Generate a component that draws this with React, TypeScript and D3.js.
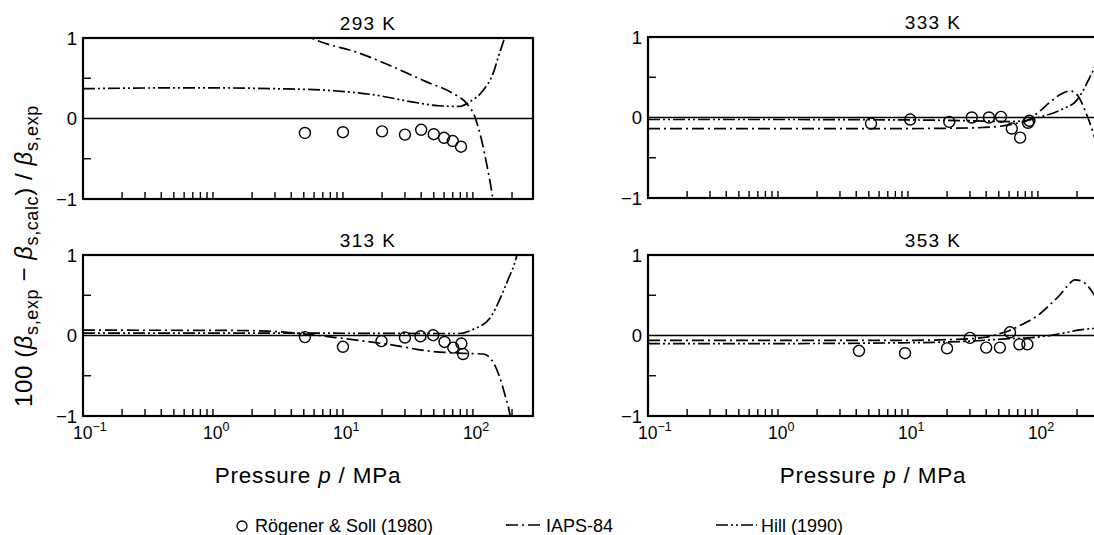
import React from 'react';
import * as d3 from 'd3';

type P = [number, number];

// ---- data (pressure in MPa, deviation in %) ----
const rogener293: P[] = [[5.1, -0.18], [10, -0.17], [20, -0.16], [30, -0.2], [40, -0.14], [50, -0.195], [60, -0.24], [70, -0.28], [81, -0.35]];
const iaps293: P[] = [[4.5, 1.08], [6.3, 0.97], [13.5, 0.81], [24.4, 0.64], [44, 0.455], [70.6, 0.31], [89.5, 0.186], [103.6, 0.02], [116.7, -0.27], [127.4, -0.56], [139, -0.89], [145, -1.08]];
const hill293: P[] = [[0.1, 0.37], [0.5, 0.38], [1, 0.38], [3, 0.37], [7.5, 0.35], [18, 0.29], [33, 0.21], [58, 0.155], [79, 0.15], [93, 0.2], [120, 0.35], [143, 0.56], [160, 0.81], [175, 1.0], [182, 1.1]];

const rogener313: P[] = [[5.1, -0.02], [10, -0.14], [19.8, -0.07], [30, -0.025], [39.5, -0.01], [49.5, 0.004], [60.5, -0.08], [70.6, -0.15], [81.5, -0.1], [84, -0.23]];
const iaps313: P[] = [[0.1, 0.066], [1, 0.064], [2.3, 0.058], [5, 0.02], [10, -0.037], [24.4, -0.12], [44, -0.19], [79, -0.22], [120, -0.23], [143, -0.33], [160, -0.51], [178, -0.76], [192, -0.97], [197, -1.08]];
const hill313: P[] = [[0.1, 0.03], [1, 0.03], [10, 0.028], [40, 0.025], [79, 0.025], [100, 0.075], [136, 0.22], [160, 0.44], [186, 0.69], [215, 0.96], [222, 1.05]];

const rogener333: P[] = [[5.2, -0.075], [10.4, -0.025], [20.8, -0.054], [31, 0.0], [42, 0.0], [52, 0.008], [63, -0.137], [73, -0.25], [84, -0.066], [86, -0.041]];
const iaps333: P[] = [[0.1, -0.137], [1, -0.137], [10, -0.137], [30, -0.13], [50, -0.11], [70, -0.07], [82, -0.04], [100, 0.06], [124, 0.19], [150, 0.29], [176, 0.33], [195, 0.3], [212, 0.22], [230, 0.09], [250, -0.06], [267, -0.2], [290, -0.4]];
const hill333: P[] = [[0.1, -0.025], [1, -0.025], [10, -0.03], [30, -0.04], [60, -0.05], [80, -0.04], [100, 0.0], [117, 0.03], [157, 0.11], [198, 0.21], [222, 0.33], [244, 0.46], [267, 0.59], [290, 0.72]];

const rogener353: P[] = [[4.2, -0.19], [9.5, -0.22], [20, -0.16], [30, -0.03], [40, -0.15], [51, -0.15], [61, 0.04], [72, -0.11], [83, -0.11]];
const iaps353: P[] = [[0.1, -0.06], [1, -0.06], [10, -0.06], [30, -0.04], [40, -0.02], [50, 0.02], [60, 0.06], [72, 0.12], [85, 0.18], [100, 0.25], [123, 0.38], [147, 0.5], [170, 0.62], [192, 0.69], [215, 0.68], [240, 0.62], [260, 0.55], [290, 0.42]];
const hill353: P[] = [[0.1, -0.1], [1, -0.1], [10, -0.09], [30, -0.07], [60, -0.04], [100, -0.02], [157, 0.03], [210, 0.07], [290, 0.09]];

const titles = ['293 K', '313 K', '333 K', '353 K'];
const tickMultipliers = [2, 3, 4, 5, 6, 7, 8, 9, 10];
const tickDecades = [0.1, 1, 10];
const extraTicks = [200];
const decadeLabels = [
  { value: 0.1, base: '10', exp: '\u22121' },
  { value: 1, base: '10', exp: '0' },
  { value: 10, base: '10', exp: '1' },
  { value: 100, base: '10', exp: '2' },
];
const yLabels = [
  { value: 1, text: '1' },
  { value: 0, text: '0' },
  { value: -1, text: '\u22121' },
];
const yMinorTicks = [0.5, -0.5];
const xDomain: [number, number] = [0.1, 290];
const yDomain: [number, number] = [-1, 1];

const IAPS_DASH = '12 4 2 4';
const HILL_DASH = '12 3 2 3 2 3';

const PW = 450;
const PH = 161;
const FONT = 'Liberation Sans, Arial, Helvetica, sans-serif';

interface PanelDef {
  title: string;
  x0: number;
  y0: number;
  points: P[];
  iaps: P[];
  hill: P[];
  showX: boolean;
  id: string;
}

const panels: PanelDef[] = [
  { title: titles[0], x0: 83, y0: 38, points: rogener293, iaps: iaps293, hill: hill293, showX: false, id: 'a' },
  { title: titles[1], x0: 83, y0: 255, points: rogener313, iaps: iaps313, hill: hill313, showX: true, id: 'b' },
  { title: titles[2], x0: 648, y0: 37, points: rogener333, iaps: iaps333, hill: hill333, showX: false, id: 'c' },
  { title: titles[3], x0: 648, y0: 255, points: rogener353, iaps: iaps353, hill: hill353, showX: true, id: 'd' },
];

const xTicks: number[] = [];
tickDecades.forEach((d) => tickMultipliers.forEach((m) => xTicks.push(d * m)));
extraTicks.forEach((t) => xTicks.push(t));

function Panel({ p }: { p: PanelDef }) {
  const x = d3.scaleLog().domain(xDomain).range([0, PW]);
  const y = d3.scaleLinear().domain(yDomain).range([PH, 0]);
  const line = d3
    .line<P>()
    .x((d) => x(d[0]))
    .y((d) => y(d[1]))
    .curve(d3.curveMonotoneX);
  const clipId = 'clip-' + p.id;
  return (
    <g transform={`translate(${p.x0},${p.y0})`}>
      <defs>
        <clipPath id={clipId}>
          <rect x={0} y={0} width={PW} height={PH} />
        </clipPath>
      </defs>
      <text x={285} y={-8} fontSize={19} letterSpacing={1.4} textAnchor="middle" fontFamily={FONT}>
        {p.title}
      </text>
      {/* zero line */}
      <line x1={0} x2={PW} y1={y(0)} y2={y(0)} stroke="#000" strokeWidth={1.7} />
      {/* x ticks */}
      {xTicks.map((t) => (
        <line key={'xt' + t} x1={x(t)} x2={x(t)} y1={PH} y2={PH - 7} stroke="#000" strokeWidth={1.4} />
      ))}
      {yMinorTicks.map((t) => (
        <line key={'yt' + t} x1={0} x2={8} y1={y(t)} y2={y(t)} stroke="#000" strokeWidth={1.4} />
      ))}
      <g clipPath={`url(#${clipId})`}>
        <path d={line(p.iaps) || ''} fill="none" stroke="#000" strokeWidth={1.7} strokeDasharray={IAPS_DASH} />
        <path d={line(p.hill) || ''} fill="none" stroke="#000" strokeWidth={1.7} strokeDasharray={HILL_DASH} />
        {p.points.map((d, i) => (
          <circle key={i} cx={x(d[0])} cy={y(d[1])} r={5.5} fill="none" stroke="#000" strokeWidth={1.4} />
        ))}
      </g>
      {/* frame */}
      <rect x={0} y={0} width={PW} height={PH} fill="none" stroke="#000" strokeWidth={2.2} />
      {yLabels.map((l) => (
        <text key={l.text} x={-6} y={y(l.value) + 6.5} fontSize={18.5} textAnchor="end" fontFamily={FONT}>
          {l.text}
        </text>
      ))}
      {p.showX &&
        decadeLabels.map((l) => (
          <text key={l.exp} x={x(l.value) - 10} y={PH + 23} fontSize={17.5} fontFamily={FONT}>
            {l.base}
            <tspan fontSize={12.5} dy={-8}>
              {l.exp}
            </tspan>
          </text>
        ))}
      {p.showX && (
        <text x={PW / 2} y={PH + 67} fontSize={22.5} letterSpacing={0.8} textAnchor="middle" fontFamily={FONT}>
          Pressure <tspan fontStyle="italic">p</tspan> / MPa
        </text>
      )}
    </g>
  );
}

export default function App() {
  return (
    <svg
      width={1094}
      height={535}
      style={{ position: 'absolute', left: 0, top: 0, background: '#fff' }}
      xmlns="http://www.w3.org/2000/svg"
    >
      <rect x={0} y={0} width={1094} height={535} fill="#fff" />
      {panels.map((p) => (
        <Panel key={p.id} p={p} />
      ))}
      {/* y axis label */}
      <text
        transform="translate(32,256) rotate(-90)"
        fontSize={24}
        letterSpacing={0.6}
        textAnchor="middle"
        fontFamily={FONT}
      >
        100 (<tspan fontStyle="italic">β</tspan>
        <tspan fontSize={18} dy={6}>s,exp</tspan>
        <tspan dy={-6}> − </tspan>
        <tspan fontStyle="italic">β</tspan>
        <tspan fontSize={18} dy={6}>s,calc</tspan>
        <tspan dy={-6}>) / </tspan>
        <tspan fontStyle="italic">β</tspan>
        <tspan fontSize={18} dy={6}>s,exp</tspan>
      </text>
      {/* legend */}
      <circle cx={242} cy={526} r={5} fill="none" stroke="#000" strokeWidth={1.3} />
      <text x={255} y={532} fontSize={18} fontFamily={FONT}>
        Rögener &amp; Soll (1980)
      </text>
      <line x1={506} x2={541} y1={525} y2={525} stroke="#000" strokeWidth={1.7} strokeDasharray={IAPS_DASH} />
      <text x={546} y={532} fontSize={18} fontFamily={FONT}>
        IAPS-84
      </text>
      <line x1={716} x2={757} y1={525} y2={525} stroke="#000" strokeWidth={1.7} strokeDasharray={HILL_DASH} />
      <text x={761} y={532} fontSize={18} fontFamily={FONT}>
        Hill (1990)
      </text>
    </svg>
  );
}
